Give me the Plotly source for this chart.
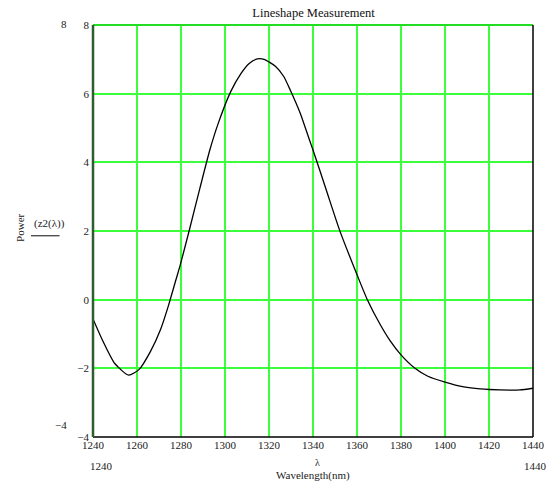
import plotly.graph_objects as go

wavelength = [1240, 1244.6, 1249.9, 1256.2, 1261, 1266.2, 1270.7, 1274.4, 1277.7, 1279.7,
              1283.8, 1288.6, 1293.1, 1297, 1302.6, 1307.3, 1311, 1314.7, 1317.7, 1322.9,
              1326.7, 1329.7, 1334.2, 1338.4, 1340, 1346, 1352, 1360.3, 1364.7, 1370.6,
              1375.1, 1379.9, 1386.2, 1392.2, 1400, 1408.6, 1416, 1425, 1434, 1440]
power = [-0.56, -1.22, -1.86, -2.2, -2.03, -1.5, -0.87, -0.15, 0.58, 1.02,
         2.03, 3.25, 4.36, 5.15, 6.06, 6.59, 6.88, 7.01, 7.0, 6.8,
         6.5, 6.1, 5.43, 4.65, 4.36, 3.2, 2.04, 0.68, 0.0, -0.73,
         -1.2, -1.6, -1.99, -2.23, -2.4, -2.54, -2.6, -2.63, -2.63, -2.58]

x_range = [1240, 1440]
y_range = [-4, 8]

font = "Liberation Serif, Times New Roman, serif"
grid = "#3cff3c"

fig = go.Figure()
fig.add_trace(go.Scatter(x=wavelength, y=power, mode="lines",
                         line=dict(color="black", width=1.3, shape="spline", smoothing=0.6),
                         showlegend=False, hoverinfo="skip"))

fig.update_layout(
    width=557, height=483,
    margin=dict(l=93, r=17, t=25, b=45.5),
    paper_bgcolor="white", plot_bgcolor="white",
    font=dict(family=font, size=11, color="#222"),
    title=dict(text="Lineshape Measurement", x=0.563, xanchor="center", y=0.973, yanchor="middle",
               font=dict(family=font, size=12.5, color="#111")),
    xaxis=dict(range=x_range, dtick=20, tick0=1240, showgrid=True, gridcolor=grid, gridwidth=1.6,
               zeroline=False, showline=False, ticks="", tickfont=dict(family=font, size=11)),
    yaxis=dict(range=y_range, dtick=2, tick0=-4, showgrid=True, gridcolor=grid, gridwidth=1.6,
               zeroline=False, showline=False, ticks="", ticklabelstandoff=3,
               tickfont=dict(family=font, size=11)),
)

# border lines
fig.add_shape(type="line", xref="paper", yref="paper", x0=0, x1=1, y0=1, y1=1,
              line=dict(color="#22dd22", width=2))
fig.add_shape(type="line", xref="paper", yref="paper", x0=0, x1=1, y0=0, y1=0,
              line=dict(color="black", width=1.5))
fig.add_shape(type="line", xref="paper", yref="paper", x0=1, x1=1, y0=0, y1=1,
              line=dict(color="black", width=1.5))
fig.add_shape(type="line", xref="paper", yref="paper", x0=0, x1=0, y0=0, y1=1,
              line=dict(color="#2d5e2d", width=2.5))

ann = [
    ("8", 64, 24, 11, 0),
    ("\u22124", 60, 425, 11, 0),
    ("1240", 102, 467, 11, 0),
    ("1440", 543, 467, 11, 0),
    ("\u03bb", 321, 463, 10, 0),
    ("Wavelength(nm)", 317, 476, 11, 0),
    ("Power", 19, 228, 11, -90),
    ("(z2(\u03bb))", 49, 224, 11, 0),
]
for text, x, y, s, ang in ann:
    fig.add_annotation(text=text, xref="paper", yref="paper", x=(x - 93) / 447.0,
                       y=(437.5 - y) / 412.5, showarrow=False, textangle=ang,
                       font=dict(family=font, size=s, color="#222"),
                       xanchor="center", yanchor="middle")

# underline under (z2(λ))
fig.add_shape(type="line", xref="paper", yref="paper",
              x0=(30 - 93) / 447.0, x1=(59 - 93) / 447.0,
              y0=(437.5 - 236) / 412.5, y1=(437.5 - 236) / 412.5,
              line=dict(color="#333", width=1.2))

fig.write_html("out.html", config={"displayModeBar": False},
               post_script="document.body.style.margin='0';document.body.style.padding='0';")
